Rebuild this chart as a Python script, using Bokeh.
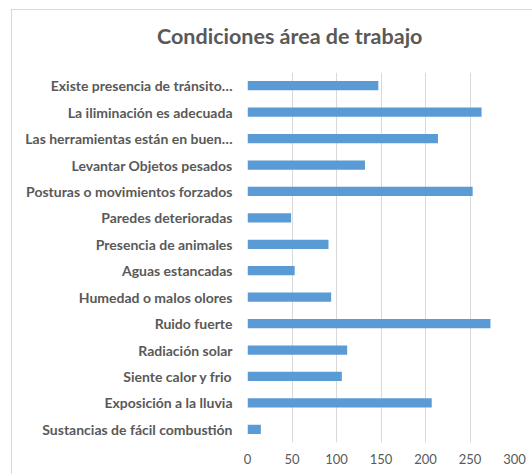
from bokeh.plotting import figure
from bokeh.models import ColumnDataSource, FactorRange, Range1d, FixedTicker, Div
from bokeh.layouts import column
from bokeh.embed import file_html
from bokeh.resources import INLINE

title_text = "Condiciones área de trabajo"
categories = [
    "Existe presencia de tránsito…",
    "La iliminación es adecuada",
    "Las herramientas están en buen…",
    "Levantar Objetos pesados",
    "Posturas o movimientos forzados",
    "Paredes deterioradas",
    "Presencia de animales",
    "Aguas estancadas",
    "Humedad o malos olores",
    "Ruido fuerte",
    "Radiación solar",
    "Siente calor y frio",
    "Exposición a la lluvia",
    "Sustancias de fácil combustión",
]
values = [147, 263, 214, 132, 253, 49, 91, 53, 94, 273, 112, 106, 207, 15]
x_ticks = [0, 50, 100, 150, 200, 250, 300]

source = ColumnDataSource(dict(cat=categories, val=values))

FONT = "Lato"
GRAY = "#595959"

head = Div(
    text=f'<div style="position:absolute;left:145px;top:11px;white-space:nowrap;'
         f'font-family:Lato;font-size:21.5px;font-weight:bold;color:{GRAY};">{title_text}</div>',
    width=521, height=54, margin=0,
)

p = figure(
    width=521, height=410,
    y_range=FactorRange(*reversed(categories), range_padding=0),
    x_range=Range1d(0, 300),
    output_backend="svg", toolbar_location=None,
    min_border_left=235, min_border_right=19, min_border_top=8, min_border_bottom=32,
    margin=0,
)

p.hbar(y="cat", right="val", left=0, height=0.35, source=source,
       color="#5b9bd5", line_color=None)

p.outline_line_color = None
p.ygrid.grid_line_color = None
p.xgrid.grid_line_color = "#d9d9d9"
p.xgrid.ticker = FixedTicker(ticks=x_ticks)
p.xaxis.ticker = FixedTicker(ticks=x_ticks)

for ax in (p.xaxis[0], p.yaxis[0]):
    ax.axis_line_color = None
    ax.major_tick_line_color = None
    ax.minor_tick_line_color = None
    ax.major_tick_out = 0
    ax.major_tick_in = 0
    ax.major_label_text_font = FONT
    ax.major_label_text_color = GRAY
    ax.major_label_text_font_size = "13px"

p.yaxis.major_label_standoff = 15
p.yaxis.major_label_text_font_size = "14px"
p.yaxis.major_label_text_font_style = "bold"
p.xaxis.major_label_standoff = 11

layout = column(head, p, spacing=0, margin=(9, 0, 0, 11))
layout.styles = {"border-top": "1px solid #d9d9d9", "border-left": "1px solid #d9d9d9"}

open("out.html", "w").write(file_html(layout, INLINE))
